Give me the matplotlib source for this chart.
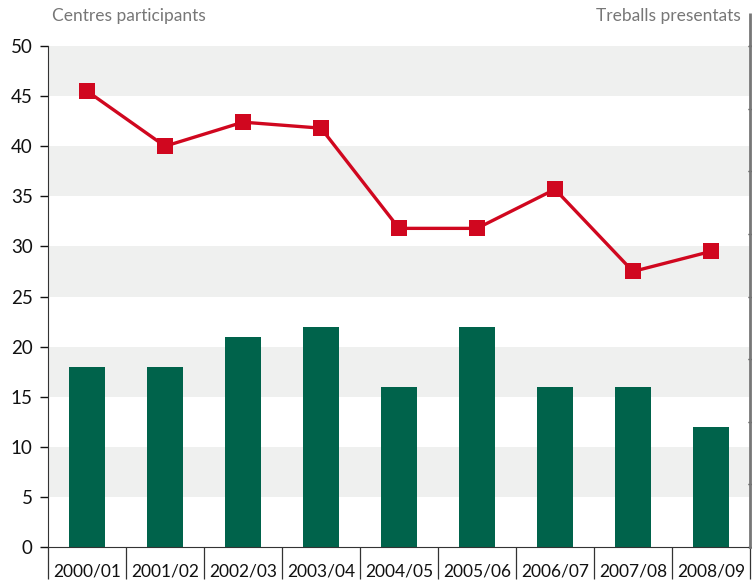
import matplotlib.pyplot as plt
from matplotlib.ticker import MultipleLocator, FixedLocator

plt.rcParams['font.family'] = ['Lato', 'DejaVu Sans']

cursos = ['2000/01', '2001/02', '2002/03', '2003/04', '2004/05',
          '2005/06', '2006/07', '2007/08', '2008/09']
centres = [18, 18, 21, 22, 16, 22, 16, 16, 12]
treballs = [45.5, 40, 42.4, 41.8, 31.8, 31.8, 35.7, 27.5, 29.5]

verd = '#00634b'
vermell = '#d0071f'
gris_banda = '#eff0ef'

fig = plt.figure(figsize=(7.52, 5.81), dpi=100)
ax = fig.add_axes([48 / 752, 1 - 547 / 581, 702 / 752, 501 / 581])

x = list(range(len(cursos)))

# alternating background bands
for y0 in range(5, 50, 10):
    ax.axhspan(y0, y0 + 5, color=gris_banda, lw=0, zorder=0)

ax.bar(x, centres, width=0.46, color=verd, zorder=2)
ax.plot(x, treballs, color=vermell, lw=2.4, marker='s', ms=12,
        markeredgewidth=0, zorder=3)

ax.set_xlim(-0.5, len(cursos) - 0.5)
ax.set_ylim(0, 50)
ax.yaxis.set_major_locator(MultipleLocator(5))
ax.tick_params(axis='y', length=6, width=1, direction='out', pad=5,
               labelsize=13.5, colors='#111111')

# category labels between separators
ax.set_xticks(x)
ax.set_xticklabels(cursos)
ax.xaxis.set_minor_locator(FixedLocator([i - 0.5 for i in range(len(cursos) + 1)]))
ax.tick_params(axis='x', which='major', length=0, pad=12, labelsize=12.5,
               colors='#111111')
ax.tick_params(axis='x', which='minor', length=23, width=0.9,
               color='#333333', direction='out')

ax.spines['top'].set_visible(False)
ax.spines['right'].set_visible(False)
ax.spines['left'].set_color('#333333')
ax.spines['bottom'].set_color('#333333')

# secondary axis on the right, labels fall outside the page
ax2 = ax.twinx()
ax2.set_ylim(0, 8)
ax2.yaxis.set_major_locator(MultipleLocator(1))
ax2.tick_params(axis='y', length=3, width=1, direction='inout',
                labelright=False, color='#333333')
for s in ['top', 'left', 'bottom']:
    ax2.spines[s].set_visible(False)
ax2.spines['right'].set_color('#777777')
ax2.spines['right'].set_linewidth(2)
ax2.plot([1, 1], [1, 1.065], transform=ax2.transAxes, color='#777777',
         lw=2, clip_on=False, solid_capstyle='butt')

fig.text(52 / 752, 1 - 16 / 581, 'Centres participants', color='#777777',
         fontsize=12.5, ha='left', va='center')
fig.text(741 / 752, 1 - 16 / 581, 'Treballs presentats', color='#777777',
         fontsize=12.5, ha='right', va='center')

fig.savefig('out.png', dpi=100)
